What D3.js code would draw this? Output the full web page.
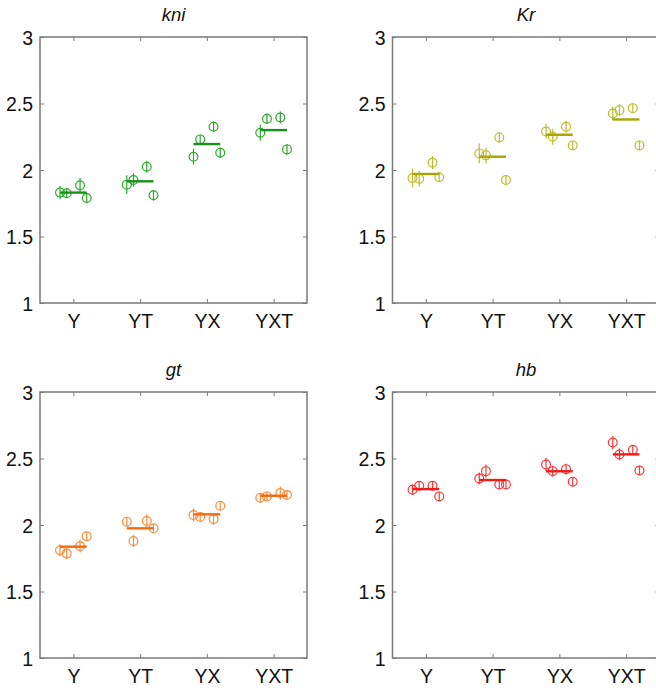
<!DOCTYPE html>
<html>
<head>
<meta charset="utf-8">
<script src="https://cdn.jsdelivr.net/npm/d3@7"></script>
<style>
  body { margin: 0; background: #fff; }
  svg { display: block; font-family: "Liberation Sans", Arial, Helvetica, sans-serif; }
</style>
</head>
<body>
<svg id="chart" width="656" height="692"></svg>
<script>
// Conditions on the x axis and the y-axis tick values
const categories = ["Y", "YT", "YX", "YXT"];
const yTicks = [1, 1.5, 2, 2.5, 3];
// Horizontal offsets of the four replicates around each condition
const replicateOffsets = [-0.2, -0.1, 0.1, 0.2];

// Gene panels, in reading order
const genes = ["kni", "Kr", "gt", "hb"];

// Replicate values (one row per condition) and their error half-widths
const kniValues = [[1.83, 1.825, 1.885, 1.79], [1.89, 1.925, 2.025, 1.81], [2.10, 2.23, 2.325, 2.13], [2.28, 2.385, 2.395, 2.155]];
const kniErrors = [[0.05, 0.035, 0.055, 0.04], [0.07, 0.05, 0.045, 0.04], [0.06, 0.035, 0.04, 0.04], [0.06, 0.04, 0.045, 0.04]];
const kniMeans = [1.83, 1.915, 2.195, 2.30];

const krValues = [[1.94, 1.935, 2.055, 1.945], [2.125, 2.11, 2.245, 1.925], [2.29, 2.25, 2.325, 2.185], [2.425, 2.45, 2.465, 2.185]];
const krErrors = [[0.07, 0.06, 0.05, 0.035], [0.075, 0.06, 0.04, 0.035], [0.055, 0.06, 0.045, 0.035], [0.05, 0.045, 0.035, 0.035]];
const krMeans = [1.97, 2.10, 2.265, 2.38];

const gtValues = [[1.81, 1.785, 1.84, 1.915], [2.025, 1.88, 2.03, 1.975], [2.075, 2.06, 2.045, 2.145], [2.205, 2.215, 2.24, 2.225]];
const gtErrors = [[0.045, 0.04, 0.045, 0.035], [0.035, 0.045, 0.05, 0.035], [0.05, 0.035, 0.045, 0.035], [0.035, 0.035, 0.05, 0.035]];
const gtMeans = [1.837, 1.975, 2.08, 2.22];

const hbValues = [[2.265, 2.295, 2.295, 2.215], [2.35, 2.405, 2.305, 2.305], [2.455, 2.405, 2.42, 2.325], [2.62, 2.53, 2.565, 2.41]];
const hbErrors = [[0.04, 0.035, 0.035, 0.035], [0.045, 0.05, 0.035, 0.035], [0.05, 0.04, 0.04, 0.035], [0.05, 0.045, 0.035, 0.035]];
const hbMeans = [2.27, 2.338, 2.404, 2.531];

const panelData = {
  kni: { values: kniValues, errors: kniErrors, means: kniMeans, marker: "#2aa82a", mean: "#1a901a" },
  Kr:  { values: krValues,  errors: krErrors,  means: krMeans,  marker: "#bcbc2c", mean: "#a8a400" },
  gt:  { values: gtValues,  errors: gtErrors,  means: gtMeans,  marker: "#ff8a3a", mean: "#f26a10" },
  hb:  { values: hbValues,  errors: hbErrors,  means: hbMeans,  marker: "#ff3535", mean: "#f01c1c" }
};

// Plot-area frames for the 2x2 grid
const frames = [
  { x0: 40,    x1: 307,   y0: 37,  y1: 303 },
  { x0: 392.5, x1: 659.5, y0: 37,  y1: 303 },
  { x0: 40,    x1: 307,   y0: 392, y1: 658 },
  { x0: 392.5, x1: 659.5, y0: 392, y1: 658 }
];

const svg = d3.select("#chart");
const axisColor = "#7a7a7a";
const fontSize = 19.5;

genes.forEach((gene, i) => {
  const f = frames[i];
  const d = panelData[gene];
  const x = d3.scaleLinear().domain([0.5, categories.length + 0.5]).range([f.x0, f.x1]);
  const y = d3.scaleLinear().domain([1, 3]).range([f.y1, f.y0]);
  const g = svg.append("g");

  // Frame
  g.append("rect")
    .attr("x", f.x0).attr("y", f.y0)
    .attr("width", f.x1 - f.x0).attr("height", f.y1 - f.y0)
    .attr("fill", "none").attr("stroke", axisColor).attr("stroke-width", 1.5);

  const catPos = categories.map((c, k) => k + 1);

  // Bottom axis with category labels, inward ticks
  const bottom = g.append("g").attr("transform", `translate(0,${f.y1})`)
    .call(d3.axisBottom(x).tickValues(catPos).tickSize(-4).tickPadding(11)
      .tickFormat((v) => categories[v - 1]));
  // Top axis, ticks only
  const top = g.append("g").attr("transform", `translate(0,${f.y0})`)
    .call(d3.axisTop(x).tickValues(catPos).tickSize(-4).tickFormat(""));
  // Left axis with value labels
  const left = g.append("g").attr("transform", `translate(${f.x0},0)`)
    .call(d3.axisLeft(y).tickValues(yTicks).tickSize(-4).tickPadding(7).tickFormat(d3.format("~g")));
  // Right axis, ticks only
  const right = g.append("g").attr("transform", `translate(${f.x1},0)`)
    .call(d3.axisRight(y).tickValues(yTicks).tickSize(-4).tickFormat(""));

  [bottom, top, left, right].forEach((a) => {
    a.select(".domain").remove();
    a.selectAll(".tick line").attr("stroke", axisColor).attr("stroke-width", 1);
    a.selectAll(".tick text").attr("fill", "#111").style("font-size", fontSize + "px");
  });
  bottom.selectAll(".tick text").attr("dy", "0.71em");
  left.selectAll(".tick text").attr("dy", "0.36em");

  // Panel title
  g.append("text")
    .attr("x", (f.x0 + f.x1) / 2)
    .attr("y", f.y0 - 16)
    .attr("text-anchor", "middle")
    .attr("font-style", "italic")
    .style("font-size", "18.5px")
    .attr("fill", "#111")
    .text(gene);

  // Replicate markers: open circle with a vertical error bar
  const pts = [];
  d.values.forEach((row, ci) => {
    row.forEach((v, ri) => {
      pts.push({ cx: ci + 1 + replicateOffsets[ri], v: v, e: d.errors[ci][ri] });
    });
  });

  const marks = g.append("g");
  marks.selectAll("line.err").data(pts).join("line")
    .attr("class", "err")
    .attr("x1", (p) => x(p.cx)).attr("x2", (p) => x(p.cx))
    .attr("y1", (p) => y(p.v - p.e)).attr("y2", (p) => y(p.v + p.e))
    .attr("stroke", d.marker).attr("stroke-width", 1.2);
  marks.selectAll("circle").data(pts).join("circle")
    .attr("cx", (p) => x(p.cx)).attr("cy", (p) => y(p.v))
    .attr("r", 4.4)
    .attr("fill", "none").attr("stroke", d.marker).attr("stroke-width", 1.2);

  // Condition means
  g.append("g").selectAll("line").data(d.means).join("line")
    .attr("x1", (m, ci) => x(ci + 1 - 0.2)).attr("x2", (m, ci) => x(ci + 1 + 0.2))
    .attr("y1", (m) => y(m)).attr("y2", (m) => y(m))
    .attr("stroke", d.mean).attr("stroke-width", 2.4);
});
</script>
</body>
</html>
